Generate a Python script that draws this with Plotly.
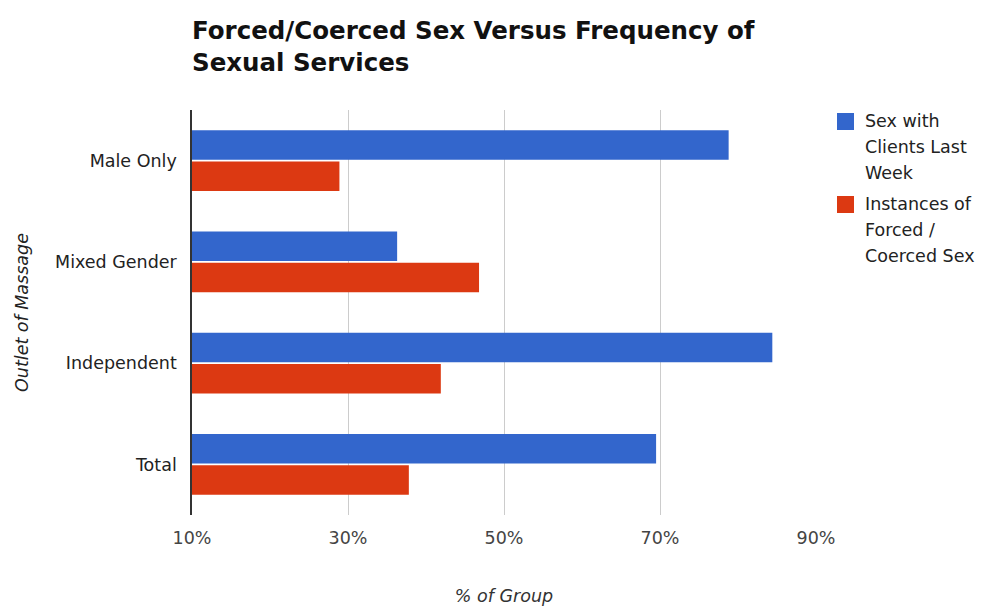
import plotly.graph_objects as go

categories = ["Male Only", "Mixed Gender", "Independent", "Total"]
sex_with_clients = [78.8, 36.3, 84.4, 69.5]
forced_coerced = [28.9, 46.8, 41.9, 37.8]
tick_values = [10, 30, 50, 70, 90]
tick_labels = ["10%", "30%", "50%", "70%", "90%"]
series_names = ["Sex with Clients Last Week", "Instances of Forced / Coerced Sex"]
legend_lines = [["Sex with", "Clients Last", "Week"], ["Instances of", "Forced /", "Coerced Sex"]]

BLUE = "#3366cc"
RED = "#dc3912"
FONT = "DejaVu Sans, Verdana, sans-serif"
FS = 17.5

W, H = 987, 606
L, R, T, B = 192, 171, 110, 91
PW, PH = W - L - R, H - T - B

fig = go.Figure()
fig.add_trace(go.Bar(y=categories, x=sex_with_clients, orientation="h",
                     name=series_names[0], marker=dict(color=BLUE, line=dict(width=0)),
                     showlegend=False))
fig.add_trace(go.Bar(y=categories, x=forced_coerced, orientation="h",
                     name=series_names[1], marker=dict(color=RED, line=dict(width=0)),
                     showlegend=False))

# manual legend
def px_to_paper_x(px):
    return (px - L) / PW

def px_to_paper_y(py):
    return (H - B - py) / PH

shapes = []
annotations = []
square_tops = [113, 196]
text_centers = [121, 204]
colors = [BLUE, RED]
for i, lines in enumerate(legend_lines):
    top = square_tops[i]
    shapes.append(dict(type="rect", xref="paper", yref="paper",
                       x0=px_to_paper_x(837), x1=px_to_paper_x(854),
                       y0=px_to_paper_y(top + 17), y1=px_to_paper_y(top),
                       fillcolor=colors[i], line=dict(width=0)))
    for j, line in enumerate(lines):
        annotations.append(dict(text=line, xref="paper", yref="paper",
                                x=px_to_paper_x(863), y=px_to_paper_y(text_centers[i] + j * 26),
                                xanchor="left", yanchor="middle", showarrow=False,
                                font=dict(family=FONT, size=FS, color="#222222")))

fig.update_layout(
    width=W, height=H,
    margin=dict(l=L, r=R, t=T, b=B, autoexpand=False),
    paper_bgcolor="white", plot_bgcolor="white",
    barmode="group", bargap=0.385, bargroupgap=0.05,
    title=dict(text="<b>Forced/Coerced Sex Versus Frequency of<br>Sexual Services</b>",
               x=L / W, xanchor="left", xref="container",
               y=1 - 39 / H, yanchor="top", yref="container",
               font=dict(family=FONT, size=24.5, color="#111111")),
    font=dict(family=FONT, size=FS, color="#222222"),
    xaxis=dict(range=[10, 90], tickvals=tick_values, ticktext=tick_labels,
               showgrid=True, gridcolor="#cccccc", gridwidth=1, automargin=False,
               zeroline=False, showline=False, ticks="", ticklabelstandoff=10,
               tickfont=dict(family=FONT, size=FS, color="#444444"),
               title=dict(text="<i>% of Group</i>", standoff=43,
                          font=dict(family=FONT, size=FS, color="#333333"))),
    yaxis=dict(categoryorder="array", categoryarray=categories, autorange="reversed",
               showgrid=False, zeroline=False, showline=True, linecolor="#333333",
               linewidth=1.5, ticks="", ticklabelstandoff=10, automargin=False,
               tickfont=dict(family=FONT, size=FS, color="#222222"),
               title=dict(text="<i>Outlet of Massage</i>", standoff=22,
                          font=dict(family=FONT, size=FS, color="#222222"))),
    shapes=shapes,
    annotations=annotations,
)

fig.write_html("out.html", config={"displayModeBar": False},
               post_script="document.body.style.margin='0';")
